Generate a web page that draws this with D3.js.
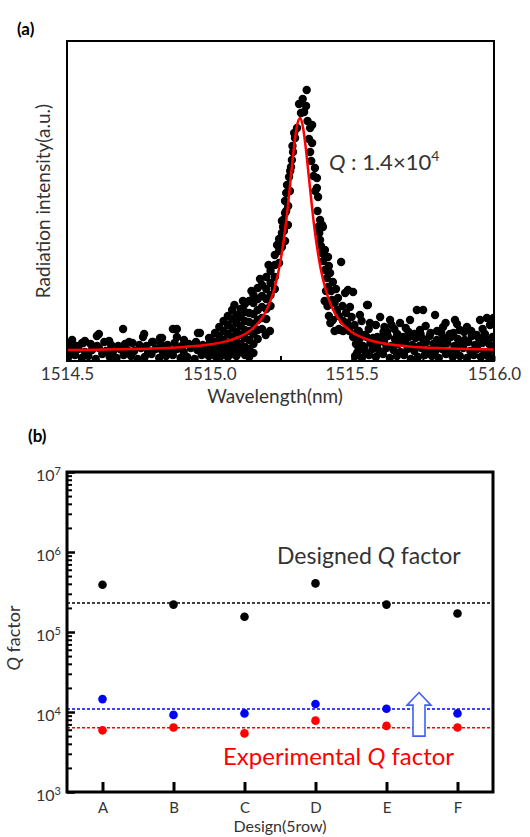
<!DOCTYPE html>
<html>
<head>
<meta charset="utf-8">
<script src="https://cdn.jsdelivr.net/npm/d3@7/dist/d3.min.js"></script>
<style>
body { margin: 0; background: #fff; }
text { font-family: Lato, "Open Sans", sans-serif; }
</style>
</head>
<body>
<svg width="530" height="837"></svg>
<script>
// ---- (a) spectrum: [wavelength nm, intensity a.u.]
var spectrumPoints = [
  // baseline band, left
  [1514.505,4],[1514.528,6],[1514.552,3],[1514.575,5],[1514.601,2],[1514.624,7],[1514.650,4],[1514.674,3],[1514.699,6],[1514.725,5],[1514.748,2],
  [1514.773,4],[1514.797,7],[1514.824,3],[1514.848,5],[1514.872,6],[1514.899,3],[1514.922,4],[1514.948,2],[1514.973,6],[1514.998,5],
  [1514.515,10],[1514.540,12],[1514.563,9],[1514.588,11],[1514.612,13],[1514.637,10],[1514.661,9],[1514.686,12],[1514.712,11],[1514.736,10],
  [1514.760,13],[1514.785,9],[1514.811,12],[1514.835,10],[1514.860,11],[1514.886,12],[1514.910,9],[1514.935,13],[1514.958,11],[1514.984,10],
  [1514.508,16],[1514.533,15],[1514.557,18],[1514.583,17],[1514.606,15],[1514.631,19],[1514.655,16],[1514.680,15],[1514.704,17],[1514.730,18],
  [1514.754,16],[1514.779,15],[1514.803,19],[1514.829,17],[1514.853,16],[1514.878,18],[1514.903,15],[1514.928,17],[1514.953,19],[1514.977,16],[1515.002,18],
  [1514.518,21],[1514.553,18],[1514.563,20],[1514.605,25],[1514.612,27],[1514.648,20],[1514.697,32],[1514.718,19],[1514.767,24],[1514.771,27],
  [1514.799,19],[1514.827,23],[1514.834,23],[1514.872,32],[1514.886,32],[1514.886,24],[1514.911,21],[1514.960,28],[1514.967,28],[1514.999,23],
  // left flank
  [1515.005,8],[1515.005,14],[1515.005,22],
  [1515.020,5],[1515.020,12],[1515.020,19],[1515.020,28],
  [1515.035,3],[1515.035,10],[1515.035,17],[1515.035,25],[1515.035,34],
  [1515.050,6],[1515.050,13],[1515.050,21],[1515.050,30],[1515.050,40],
  [1515.065,4],[1515.065,11],[1515.065,18],[1515.065,27],[1515.065,36],[1515.065,45],
  [1515.080,7],[1515.080,15],[1515.080,24],[1515.080,33],[1515.080,42],[1515.080,51],
  [1515.095,5],[1515.095,12],[1515.095,20],[1515.095,29],[1515.095,38],[1515.095,46],
  [1515.110,9],[1515.110,17],[1515.110,26],[1515.110,35],[1515.110,44],[1515.110,52],
  [1515.125,6],[1515.125,14],[1515.125,23],[1515.125,31],[1515.125,40],[1515.125,49],[1515.125,57],
  [1515.140,4],[1515.140,12],[1515.140,21],[1515.140,30],[1515.140,39],[1515.140,48],[1515.140,60],
  [1515.155,8],[1515.155,17],[1515.155,27],[1515.155,37],[1515.155,47],[1515.155,58],[1515.155,66],
  [1515.170,22],[1515.170,31],[1515.170,41],[1515.170,51],[1515.170,62],[1515.170,73],
  [1515.185,32],[1515.185,43],[1515.185,54],[1515.185,65],[1515.185,76],
  [1515.200,42],[1515.200,52],[1515.200,62],[1515.200,72],[1515.200,84],[1515.198,26],[1515.213,30],
  [1515.215,55],[1515.215,66],[1515.215,78],[1515.215,90],
  [1515.230,72],[1515.230,84],[1515.230,96],[1515.230,106],
  [1515.245,98],[1515.245,110],[1515.245,122],
  [1515.255,114],[1515.255,128],[1515.255,140],
  [1515.088,56],[1515.118,60],[1515.148,70],[1515.178,82],[1515.208,96],[1515.238,116],
  // peak
  [1515.342,271],[1515.315,257],[1515.340,255],[1515.322,248],[1515.333,249],[1515.361,236],[1515.354,233],[1515.308,233],
  [1515.301,223],[1515.361,218],[1515.294,209],[1515.354,209],[1515.290,201],[1515.287,194],[1515.371,193],[1515.280,184],
  [1515.378,183],[1515.273,176],[1515.378,173],[1515.382,164],[1515.266,160],[1515.266,148],[1515.259,141],[1515.259,134],
  [1515.389,141],[1515.399,134],[1515.270,168],[1515.276,136],
  [1515.284,190],[1515.292,215],[1515.298,228],[1515.283,170],[1515.277,155],[1515.270,150],[1515.262,130],[1515.266,120],
  [1515.350,222],[1515.358,200],[1515.366,185],[1515.372,170],[1515.380,150],[1515.386,128],[1515.392,115],[1515.400,100],
  [1515.345,240],[1515.328,262],
  // right flank
  [1515.382,134],[1515.389,121],[1515.396,108],[1515.396,136],[1515.406,111],[1515.406,91],[1515.417,104],[1515.417,74],
  [1515.463,99],[1515.424,88],[1515.434,79],[1515.413,83],[1515.505,69],[1515.477,68],[1515.452,63],[1515.431,61],
  [1515.557,56],[1515.494,54],[1515.449,51],[1515.529,46],[1515.600,44],[1515.635,41],[1515.751,51],[1515.793,46],
  [1515.863,41],[1515.951,41],[1515.998,43],[1515.434,41],[1515.484,38],[1515.564,38],[1515.670,38],[1515.705,41],
  [1515.821,34],[1515.905,34],[1515.986,36],[1515.459,31],[1515.519,29],[1515.624,29],[1515.740,31],[1515.777,28],
  [1515.858,28],[1515.939,26],[1515.505,24],[1515.575,23],[1515.680,24],[1515.519,8],[1515.543,14],[1515.487,71],
  [1515.554,56],[1515.729,51],[1515.975,43],
  [1515.420,95],[1515.428,70],[1515.440,58],[1515.445,72],[1515.455,45],[1515.468,55],[1515.470,40],[1515.480,48],
  [1515.492,34],[1515.500,44],[1515.510,36],[1515.525,30],[1515.535,40],[1515.545,26],[1515.560,32],[1515.585,36],
  [1515.590,24],[1515.615,34],[1515.650,32],[1515.660,27],[1515.690,33],[1515.720,27],[1515.760,35],[1515.800,30],
  [1515.830,38],[1515.880,31],[1515.920,30],[1515.960,32],
  [1515.405,60],[1515.410,70],[1515.415,55],[1515.420,45],[1515.425,38],[1515.440,30],[1515.455,32],[1515.470,30],[1515.492,30],
  [1515.612,29],[1515.700,29],[1515.742,27],[1515.815,28],[1515.845,27],[1515.895,29],[1515.968,27],[1515.640,36],[1515.870,37],
  // baseline band, right
  [1515.512,5],[1515.536,3],[1515.561,6],[1515.585,4],[1515.610,7],[1515.634,3],[1515.659,5],[1515.684,6],[1515.708,2],[1515.733,4],[1515.757,6],
  [1515.782,5],[1515.806,3],[1515.831,7],[1515.855,4],[1515.880,5],[1515.905,3],[1515.929,6],[1515.954,4],[1515.978,5],[1515.998,3],
  [1515.524,11],[1515.548,9],[1515.573,12],[1515.597,10],[1515.622,13],[1515.647,11],[1515.671,9],[1515.696,12],[1515.720,10],[1515.745,13],
  [1515.770,11],[1515.794,10],[1515.818,12],[1515.843,9],[1515.868,11],[1515.892,13],[1515.917,10],[1515.941,12],[1515.966,9],[1515.990,11],
  [1515.515,17],[1515.540,15],[1515.566,18],[1515.590,16],[1515.614,19],[1515.639,15],[1515.664,17],[1515.689,18],[1515.713,16],[1515.738,15],
  [1515.762,19],[1515.787,17],[1515.811,16],[1515.836,18],[1515.861,15],[1515.885,17],[1515.910,19],[1515.934,16],[1515.959,18],[1515.983,17],
  [1515.528,22],[1515.553,24],[1515.578,21],[1515.602,23],[1515.627,25],[1515.652,22],[1515.676,21],[1515.701,24],[1515.725,23],[1515.750,22],
  [1515.774,25],[1515.799,21],[1515.824,23],[1515.848,24],[1515.873,22],[1515.897,21],[1515.922,25],[1515.946,23],[1515.971,22],[1515.995,24]
];

// red Lorentzian fit
var fitPoints = [
  [1514.50,11.0],[1514.60,11.3],[1514.70,11.8],[1514.80,12.5],[1514.90,13.8],[1514.95,14.9],[1515.00,16.5],[1515.05,19.1],
  [1515.10,23.5],[1515.13,27.8],[1515.16,34.4],[1515.19,45.2],[1515.21,56.6],[1515.23,73.7],[1515.25,100],[1515.27,140],
  [1515.29,194],[1515.30,220],[1515.31,238],[1515.32,243],[1515.33,232],[1515.34,210],[1515.35,183],[1515.37,131],
  [1515.39,94],[1515.41,70],[1515.43,54],[1515.46,39.4],[1515.50,28.9],[1515.55,22],[1515.60,18.2],[1515.70,14.6],
  [1515.80,12.9],[1515.90,12.0],[1516.00,11.5]
];
var waveTicks = [1514.5, 1514.75, 1515.0, 1515.25, 1515.5, 1515.75, 1516.0];
var waveLabels = [1514.5, 1515.0, 1515.5, 1516.0];

// ---- (b) Q factors per design
var designs = ["A", "B", "C", "D", "E", "F"];
var designedQ = [3.9e5, 2.2e5, 1.55e5, 4.05e5, 2.2e5, 1.7e5];
var improvedQ = [1.45e4, 9.2e3, 9.6e3, 1.26e4, 1.1e4, 9.6e3];
var experimentalQ = [5.9e3, 6.4e3, 5.4e3, 7.8e3, 6.7e3, 6.4e3];
var meanLevels = [2.3e5, 1.09e4, 6.35e3];
var meanColors = ["#000", "#0000ff", "#ff0000"];
var qDecades = [1e3, 1e4, 1e5, 1e6, 1e7];

var svg = d3.select("svg");

// ================= panel (a)
var xa = d3.scaleLinear().domain([1514.5, 1516.0]).range([67, 494]);
var ya = d3.scaleLinear().domain([0, 320]).range([361, 41]);

svg.append("defs").append("clipPath").attr("id", "clipA")
  .append("rect").attr("x", 67).attr("y", 41).attr("width", 427).attr("height", 320);

var axA = svg.append("g").attr("transform", "translate(0,361)")
  .call(d3.axisBottom(xa).tickValues(waveTicks).tickSizeInner(-5).tickSizeOuter(0).tickPadding(7)
    .tickFormat(function(d) { return waveLabels.indexOf(d) >= 0 ? d3.format(".1f")(d) : ""; }));
axA.select(".domain").remove();
axA.selectAll("line").attr("stroke-width", 2);
axA.selectAll("text").attr("font-size", 17).attr("fill", "#333");

svg.append("g").attr("clip-path", "url(#clipA)")
  .selectAll("circle").data(spectrumPoints).join("circle")
  .attr("cx", function(d) { return xa(d[0]); })
  .attr("cy", function(d) { return ya(d[1]); })
  .attr("r", 4.2).attr("fill", "#000");

var fitLine = d3.line()
  .x(function(d) { return xa(d[0]); })
  .y(function(d) { return ya(d[1]); })
  .curve(d3.curveMonotoneX);
svg.append("path").datum(fitPoints).attr("d", fitLine)
  .attr("fill", "none").attr("stroke", "#ff0000").attr("stroke-width", 2.5);

svg.append("rect").attr("x", 67).attr("y", 41).attr("width", 427).attr("height", 320)
  .attr("fill", "none").attr("stroke", "#000").attr("stroke-width", 2);

svg.append("text").attr("x", 17).attr("y", 35).attr("font-size", 17).attr("font-weight", "bold").text("(a)");
svg.append("text").attr("transform", "translate(50,201) rotate(-90)").attr("text-anchor", "middle")
  .attr("font-size", 19).attr("fill", "#333").text("Radiation intensity(a.u.)");
svg.append("text").attr("x", 275).attr("y", 403).attr("text-anchor", "middle")
  .attr("font-size", 19).attr("fill", "#333").text("Wavelength(nm)");

var qText = svg.append("text").attr("x", 329).attr("y", 170).attr("font-size", 22).attr("fill", "#333");
qText.append("tspan").attr("font-style", "italic").text("Q");
qText.append("tspan").text(" : 1.4×10");
qText.append("tspan").attr("dy", -9).attr("font-size", 14).text("4");

// ================= panel (b)
var xb = d3.scalePoint().domain(designs).range([67, 493]).padding(0.5);
var yb = d3.scaleLog().domain([1e3, 1e7]).range([792, 472]);

var minorTicks = yb.ticks().filter(function(t) { return qDecades.indexOf(t) < 0; });
var axMinor = svg.append("g").attr("transform", "translate(67,0)")
  .call(d3.axisLeft(yb).tickValues(minorTicks).tickSizeInner(-5).tickSizeOuter(0).tickFormat(""));
axMinor.select(".domain").remove();
axMinor.selectAll("line").attr("stroke-width", 2);

var axMajor = svg.append("g").attr("transform", "translate(67,0)")
  .call(d3.axisLeft(yb).tickValues(qDecades).tickSizeInner(-8).tickSizeOuter(0).tickPadding(6).tickFormat(""));
axMajor.select(".domain").remove();
axMajor.selectAll("line").attr("stroke-width", 2.5);
axMajor.selectAll("text").attr("font-size", 16).attr("fill", "#333").attr("dy", "0.55em")
  .each(function(d) {
    var t = d3.select(this);
    t.append("tspan").text("10");
    t.append("tspan").attr("dy", "-0.6em").attr("font-size", 11).text(Math.round(Math.log10(d)));
  });

var axX = svg.append("g").attr("transform", "translate(0,792)")
  .call(d3.axisBottom(xb).tickSizeInner(-10).tickSizeOuter(0).tickPadding(10));
axX.select(".domain").remove();
axX.selectAll("line").attr("stroke-width", 3);
axX.selectAll("text").attr("font-size", 15).attr("fill", "#333");

svg.append("g").selectAll("line").data(meanLevels).join("line")
  .attr("x1", 67).attr("x2", 493)
  .attr("y1", function(d) { return yb(d); }).attr("y2", function(d) { return yb(d); })
  .attr("stroke", function(d, i) { return meanColors[i]; })
  .attr("stroke-width", 1.5).attr("stroke-dasharray", "3,2");

// up arrow between E and F
var ax0 = (xb("E") + xb("F")) / 2 - 3;
var arrowPts = [
  [ax0, yb(1.75e4)], [ax0 + 12, yb(1.22e4)], [ax0 + 6, yb(1.22e4)], [ax0 + 6, yb(5e3)],
  [ax0 - 6, yb(5e3)], [ax0 - 6, yb(1.22e4)], [ax0 - 12, yb(1.22e4)]
];
svg.append("path").attr("d", "M" + arrowPts.join("L") + "Z")
  .attr("fill", "#fff").attr("stroke", "#3f5ff5").attr("stroke-width", 1.6);

var series = [
  { values: designedQ, color: "#000" },
  { values: improvedQ, color: "#0000ff" },
  { values: experimentalQ, color: "#ff0000" }
];
series.forEach(function(s) {
  svg.append("g").selectAll("circle").data(s.values).join("circle")
    .attr("cx", function(d, i) { return xb(designs[i]); })
    .attr("cy", function(d) { return yb(d); })
    .attr("r", 4.3).attr("fill", s.color);
});

svg.append("rect").attr("x", 67).attr("y", 472).attr("width", 426).attr("height", 320)
  .attr("fill", "none").attr("stroke", "#000").attr("stroke-width", 3);

svg.append("text").attr("x", 28).attr("y", 442).attr("font-size", 17).attr("font-weight", "bold").text("(b)");

var designedLbl = svg.append("text").attr("x", 277).attr("y", 564).attr("font-size", 23).attr("fill", "#333");
designedLbl.append("tspan").text("Designed ");
designedLbl.append("tspan").attr("font-style", "italic").text("Q");
designedLbl.append("tspan").text(" factor");

var expLbl = svg.append("text").attr("x", 223).attr("y", 765).attr("font-size", 24).attr("fill", "#ff0000");
expLbl.append("tspan").text("Experimental ");
expLbl.append("tspan").attr("font-style", "italic").text("Q");
expLbl.append("tspan").text(" factor");

var qLbl = svg.append("text").attr("transform", "translate(20,638) rotate(-90)").attr("text-anchor", "middle")
  .attr("font-size", 18).attr("fill", "#333");
qLbl.append("tspan").attr("font-style", "italic").text("Q");
qLbl.append("tspan").text(" factor");

svg.append("text").attr("x", 280).attr("y", 832).attr("text-anchor", "middle")
  .attr("font-size", 16).attr("fill", "#333").text("Design(5row)");
</script>
</body>
</html>
